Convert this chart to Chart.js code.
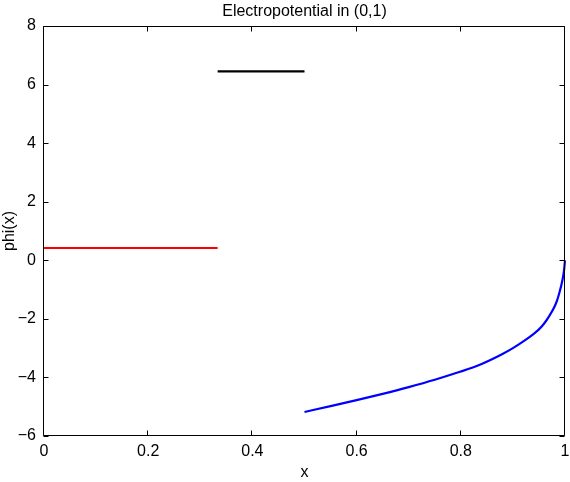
<!DOCTYPE html>
<html>
<head>
<meta charset="utf-8">
<script src="https://cdn.jsdelivr.net/npm/chart.js@4"></script>
<style>
  body { margin: 0; background: #fff; }
  #wrap { width: 570px; height: 482px; }
</style>
</head>
<body>
<div id="wrap"><canvas id="chart" width="570" height="482"></canvas></div>
<script>
// values
const redX = [0, 0.3333];
const redY = [0.42, 0.42];

const blackX = [0.3333, 0.5];
const blackY = [6.45, 6.45];

const blueX = [0.5, 0.55, 0.6, 0.65, 0.7, 0.75, 0.8, 0.84, 0.88, 0.9, 0.92, 0.94, 0.95, 0.96, 0.97, 0.98, 0.985, 0.99, 0.995, 0.998, 1.0];
const blueY = [-5.18, -4.98, -4.775, -4.56, -4.33, -4.08, -3.80, -3.54, -3.20, -3.00, -2.77, -2.51, -2.36, -2.16, -1.90, -1.58, -1.36, -1.06, -0.68, -0.37, 0];

const xTicks = [0, 0.2, 0.4, 0.6, 0.8, 1];
const yTicks = [-6, -4, -2, 0, 2, 4, 6, 8];

const FONT = 'Liberation Sans, Arial, Helvetica, sans-serif';

function pts(xs, ys) {
  return xs.map((x, i) => ({ x, y: ys[i] }));
}

function lineSet(xs, ys, color) {
  return {
    data: pts(xs, ys),
    borderColor: color,
    backgroundColor: color,
    borderWidth: 2.2,
    pointRadius: 0,
    showLine: true,
    fill: false,
    cubicInterpolationMode: 'monotone',
    clip: 4
  };
}

/* ── MATLAB-style box with inward ticks ── */
const boxTicks = {
  id: 'boxTicks',
  afterDraw(chart) {
    const { ctx, chartArea: { left, right, top, bottom }, scales: { x, y } } = chart;
    const L = left - 0.5, R = right - 0.5, T = top + 0.5, B = bottom - 0.5;
    const len = 5;
    ctx.save();
    ctx.strokeStyle = '#000';
    ctx.lineWidth = 1;
    ctx.beginPath();
    ctx.rect(L, T, R - L, B - T);
    xTicks.forEach(v => {
      const px = Math.round(x.getPixelForValue(v)) - 0.5;
      ctx.moveTo(px, B); ctx.lineTo(px, B - len);
      ctx.moveTo(px, T); ctx.lineTo(px, T + len);
    });
    yTicks.forEach(v => {
      const py = Math.round(y.getPixelForValue(v)) + 0.5;
      ctx.moveTo(L, py); ctx.lineTo(L + len, py);
      ctx.moveTo(R, py); ctx.lineTo(R - len, py);
    });
    ctx.stroke();
    ctx.restore();
  }
};

new Chart(document.getElementById('chart'), {
  type: 'scatter',
  data: {
    datasets: [
      lineSet(redX, redY, '#ff0000'),
      lineSet(blackX, blackY, '#000000'),
      lineSet(blueX, blueY, '#0000ff')
    ]
  },
  options: {
    responsive: false,
    animation: false,
    layout: { padding: { top: 0, right: 5, bottom: 0, left: 0 } },
    plugins: {
      legend: { display: false },
      tooltip: { enabled: false },
      title: {
        display: true,
        text: 'Electropotential in (0,1)',
        fullSize: false,
        color: '#000',
        font: { family: FONT, size: 16, weight: 'normal' },
        padding: { top: 2, bottom: 4.8 }
      }
    },
    scales: {
      x: {
        type: 'linear',
        min: 0,
        max: 1,
        afterFit: s => { s.height = 46; s.paddingLeft = 0; s.paddingRight = 0; },
        afterBuildTicks: s => { s.ticks = xTicks.map(v => ({ value: v })); },
        grid: { display: false, drawTicks: false },
        border: { display: false },
        ticks: {
          color: '#000',
          padding: 6,
          maxRotation: 0,
          font: { family: FONT, size: 16 },
          callback: v => String(+v.toFixed(1))
        },
        title: {
          display: true,
          text: 'x',
          color: '#000',
          font: { family: FONT, size: 16 },
          padding: { top: 0, bottom: 0 }
        }
      },
      y: {
        type: 'linear',
        min: -6,
        max: 8,
        afterFit: s => { s.width = 44; s.paddingTop = 0; s.paddingBottom = 0; },
        afterBuildTicks: s => { s.ticks = yTicks.map(v => ({ value: v })); },
        grid: { display: false, drawTicks: false },
        border: { display: false },
        ticks: {
          color: '#000',
          padding: 8,
          font: { family: FONT, size: 16 },
          callback: v => v < 0 ? '\u2212' + (-v) : String(v)
        },
        title: {
          display: true,
          text: 'phi(x)',
          color: '#000',
          font: { family: FONT, size: 16 },
          padding: { top: 0, bottom: 0 }
        }
      }
    }
  },
  plugins: [boxTicks]
});
</script>
</body>
</html>
